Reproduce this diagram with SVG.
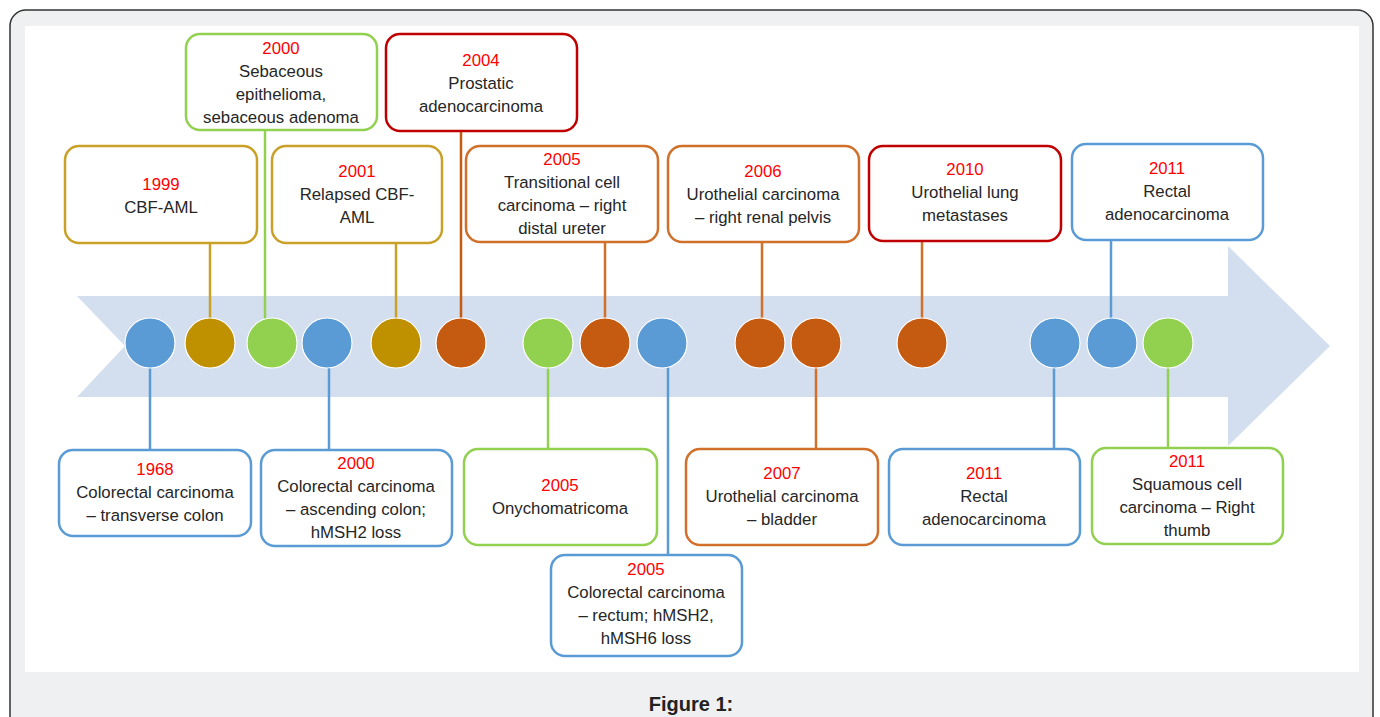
<svg xmlns="http://www.w3.org/2000/svg" width="1380" height="717" viewBox="0 0 1380 717">
<defs>
<style>
.box{fill:#fff;stroke-width:2.5}
.b{stroke:#5b9bd5}.g{stroke:#92d050}.y{stroke:#c9a028}.o{stroke:#d0702a}.r{stroke:#c00000}
.t{font-family:"Liberation Sans",Arial,sans-serif;font-size:16.8px;fill:#262626;text-anchor:middle}
.yr{fill:#ff0000}
.ln{stroke-width:2.5;fill:none}
.dot{stroke:#fff;stroke-width:1.2}
</style>
</defs>
<rect x="10" y="10" width="1363" height="730" rx="16" fill="#eff0f2" stroke="#333" stroke-width="1.5"/>
<rect x="25" y="26" width="1334" height="646" fill="#fff"/>
<text x="691" y="711" font-family="Liberation Sans,Arial,sans-serif" font-size="20" font-weight="bold" fill="#222" text-anchor="middle">Figure 1:</text>
<polygon id="arrow" points="77,296 1228,296 1228,246 1330,346 1228,446 1228,397 77,397 125,346" fill="#d3deef"/>
<g id="connectors">
<line class="ln" x1="210" y1="243" x2="210" y2="320" stroke="#c9a028"/>
<line class="ln" x1="265" y1="130" x2="265" y2="320" stroke="#92d050"/>
<line class="ln" x1="396" y1="243" x2="396" y2="320" stroke="#c9a028"/>
<line class="ln" x1="461" y1="131" x2="461" y2="320" stroke="#c55a11"/>
<line class="ln" x1="605" y1="242" x2="605" y2="320" stroke="#d0702a"/>
<line class="ln" x1="762" y1="242" x2="762" y2="320" stroke="#d0702a"/>
<line class="ln" x1="922" y1="241" x2="922" y2="320" stroke="#d0702a"/>
<line class="ln" x1="1111" y1="240" x2="1111" y2="320" stroke="#5b9bd5"/>
<line class="ln" x1="150" y1="366" x2="150" y2="450" stroke="#5b9bd5"/>
<line class="ln" x1="329" y1="366" x2="329" y2="450" stroke="#5b9bd5"/>
<line class="ln" x1="548" y1="366" x2="548" y2="449" stroke="#92d050"/>
<line class="ln" x1="668" y1="366" x2="668" y2="555" stroke="#5b9bd5"/>
<line class="ln" x1="816" y1="366" x2="816" y2="449" stroke="#d0702a"/>
<line class="ln" x1="1054" y1="366" x2="1054" y2="449" stroke="#5b9bd5"/>
<line class="ln" x1="1168" y1="366" x2="1168" y2="448" stroke="#92d050"/>
</g>
<g id="dots">
<circle class="dot" cx="150" cy="343" r="25" fill="#5b9bd5"/>
<circle class="dot" cx="210" cy="343" r="25" fill="#bf9000"/>
<circle class="dot" cx="272" cy="343" r="25" fill="#92d050"/>
<circle class="dot" cx="327" cy="343" r="25" fill="#5b9bd5"/>
<circle class="dot" cx="396" cy="343" r="25" fill="#bf9000"/>
<circle class="dot" cx="461" cy="343" r="25" fill="#c55a11"/>
<circle class="dot" cx="548" cy="343" r="25" fill="#92d050"/>
<circle class="dot" cx="605" cy="343" r="25" fill="#c55a11"/>
<circle class="dot" cx="662" cy="343" r="25" fill="#5b9bd5"/>
<circle class="dot" cx="760" cy="343" r="25" fill="#c55a11"/>
<circle class="dot" cx="816" cy="343" r="25" fill="#c55a11"/>
<circle class="dot" cx="922" cy="343" r="25" fill="#c55a11"/>
<circle class="dot" cx="1055" cy="343" r="25" fill="#5b9bd5"/>
<circle class="dot" cx="1112" cy="343" r="25" fill="#5b9bd5"/>
<circle class="dot" cx="1168" cy="343" r="25" fill="#92d050"/>
</g>
<g id="n1999"><rect class="box y" x="65" y="146" width="192" height="97" rx="14"/>
<text class="t" x="161"><tspan class="yr" x="161" y="190">1999</tspan><tspan x="161" y="213">CBF-AML</tspan></text></g>
<g id="n2000a"><rect class="box g" x="186" y="34" width="191" height="96" rx="14"/>
<text class="t"><tspan class="yr" x="281" y="54">2000</tspan><tspan x="281" y="77">Sebaceous</tspan><tspan x="281" y="100">epithelioma,</tspan><tspan x="281" y="123">sebaceous adenoma</tspan></text></g>
<g id="n2001"><rect class="box y" x="272" y="146" width="170" height="97" rx="14"/>
<text class="t"><tspan class="yr" x="357" y="177">2001</tspan><tspan x="357" y="200">Relapsed CBF-</tspan><tspan x="357" y="223">AML</tspan></text></g>
<g id="n2004"><rect class="box r" x="386" y="34" width="191" height="97" rx="14"/>
<text class="t"><tspan class="yr" x="481" y="66">2004</tspan><tspan x="481" y="89">Prostatic</tspan><tspan x="481" y="112">adenocarcinoma</tspan></text></g>
<g id="n2005a"><rect class="box o" x="466" y="146" width="192" height="96" rx="14"/>
<text class="t"><tspan class="yr" x="562" y="165">2005</tspan><tspan x="562" y="188">Transitional cell</tspan><tspan x="562" y="211">carcinoma – right</tspan><tspan x="562" y="234">distal ureter</tspan></text></g>
<g id="n2006"><rect class="box o" x="668" y="146" width="191" height="96" rx="14"/>
<text class="t"><tspan class="yr" x="763" y="177">2006</tspan><tspan x="763" y="200">Urothelial carcinoma</tspan><tspan x="763" y="223">– right renal pelvis</tspan></text></g>
<g id="n2010"><rect class="box r" x="869" y="146" width="192" height="95" rx="14"/>
<text class="t"><tspan class="yr" x="965" y="175">2010</tspan><tspan x="965" y="198">Urothelial lung</tspan><tspan x="965" y="221">metastases</tspan></text></g>
<g id="n2011a"><rect class="box b" x="1072" y="144" width="191" height="96" rx="14"/>
<text class="t"><tspan class="yr" x="1167" y="174">2011</tspan><tspan x="1167" y="197">Rectal</tspan><tspan x="1167" y="220">adenocarcinoma</tspan></text></g>
<g id="n1968"><rect class="box b" x="59" y="450" width="192" height="86" rx="14"/>
<text class="t"><tspan class="yr" x="155" y="475">1968</tspan><tspan x="155" y="498">Colorectal carcinoma</tspan><tspan x="155" y="521">– transverse colon</tspan></text></g>
<g id="n2000b"><rect class="box b" x="261" y="450" width="191" height="96" rx="14"/>
<text class="t"><tspan class="yr" x="356" y="469">2000</tspan><tspan x="356" y="492">Colorectal carcinoma</tspan><tspan x="356" y="515">– ascending colon;</tspan><tspan x="356" y="538">hMSH2 loss</tspan></text></g>
<g id="n2005b"><rect class="box g" x="464" y="449" width="193" height="96" rx="14"/>
<text class="t"><tspan class="yr" x="560" y="491">2005</tspan><tspan x="560" y="514">Onychomatricoma</tspan></text></g>
<g id="n2005c"><rect class="box b" x="551" y="555" width="191" height="101" rx="14"/>
<text class="t"><tspan class="yr" x="646" y="575">2005</tspan><tspan x="646" y="598">Colorectal carcinoma</tspan><tspan x="646" y="621">– rectum; hMSH2,</tspan><tspan x="646" y="644">hMSH6 loss</tspan></text></g>
<g id="n2007"><rect class="box o" x="686" y="449" width="192" height="96" rx="14"/>
<text class="t"><tspan class="yr" x="782" y="479">2007</tspan><tspan x="782" y="502">Urothelial carcinoma</tspan><tspan x="782" y="525">– bladder</tspan></text></g>
<g id="n2011b"><rect class="box b" x="889" y="449" width="191" height="96" rx="14"/>
<text class="t"><tspan class="yr" x="984" y="479">2011</tspan><tspan x="984" y="502">Rectal</tspan><tspan x="984" y="525">adenocarcinoma</tspan></text></g>
<g id="n2011c"><rect class="box g" x="1092" y="448" width="191" height="96" rx="14"/>
<text class="t"><tspan class="yr" x="1187" y="467">2011</tspan><tspan x="1187" y="490">Squamous cell</tspan><tspan x="1187" y="513">carcinoma – Right</tspan><tspan x="1187" y="536">thumb</tspan></text></g>
</svg>
